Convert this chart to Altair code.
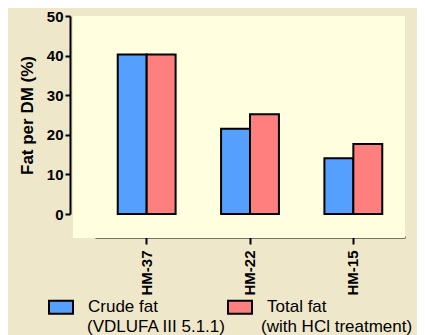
import altair as alt
import pandas as pd

samples = ["HM-37", "HM-22", "HM-15"]
series = ["Crude fat", "Total fat"]
series_sub = ["(VDLUFA III 5.1.1)", "(with HCl treatment)"]
crude = [40.3, 21.5, 14.1]
total = [40.3, 25.2, 17.7]
colors = ["#559FFF", "#FF7F7F"]

rows = []
for i, s in enumerate(samples):
    rows.append({"sample": s, "series": series[0], "value": crude[i]})
    rows.append({"sample": s, "series": series[1], "value": total[i]})
df = pd.DataFrame(rows)

FONT = "Liberation Sans"
W, H = 310, 198

bg = alt.Chart(pd.DataFrame({"a": [0]})).mark_rect(color="#FFFFE0").encode(
    x=alt.value(-22), x2=alt.value(W), y=alt.value(0), y2=alt.value(H + 24)
)

bars = alt.Chart(df).mark_bar(stroke="black", strokeWidth=2).encode(
    x=alt.X("sample:N", sort=samples,
            scale=alt.Scale(paddingInner=0.44, paddingOuter=0.22),
            axis=alt.Axis(title=None, labelAngle=270, labelFont=FONT, labelFontSize=15,
                          labelFontWeight="bold", labelColor="black", labelPadding=6,
                          domainColor="black", domainWidth=2, tickColor="black",
                          tickWidth=2, tickSize=7, offset=23)),
    xOffset=alt.XOffset("series:N", sort=series),
    y=alt.Y("value:Q", scale=alt.Scale(domain=[0, 50], nice=False),
            axis=alt.Axis(title="Fat per DM (%)", values=[0, 10, 20, 30, 40, 50],
                          grid=False, labelFont=FONT, labelFontSize=15, labelFontWeight="bold",
                          labelColor="black", labelPadding=2, titleFont=FONT,
                          titleFontSize=17, titleFontWeight="bold", titleColor="black",
                          titlePadding=10, domainColor="black", domainWidth=2,
                          tickColor="black", tickWidth=2, tickSize=5, offset=25)),
    color=alt.Color("series:N", sort=series,
                    scale=alt.Scale(domain=series, range=colors),
                    legend=alt.Legend(title=None, orient="none", legendX=-47, legendY=278,
                                      direction="horizontal", columns=2, columnPadding=66,
                                      symbolType="M-1,-0.54H1V0.54H-1Z", symbolSize=576,
                                      symbolStrokeColor="black", symbolStrokeWidth=2,
                                      symbolOpacity=1, labelFont=FONT, labelFontSize=17,
                                      labelColor="black", labelLimit=400, labelOffset=14)),
)

sub_x = [-8, 166]
subs = [
    alt.Chart(pd.DataFrame({"a": [0]})).mark_text(
        align="left", baseline="middle", font=FONT, fontSize=17, color="black"
    ).encode(x=alt.value(sub_x[i]), y=alt.value(311), text=alt.value(series_sub[i]))
    for i in range(len(series_sub))
]

chart = alt.layer(bg, bars, *subs).properties(
    width=W, height=H,
    autosize=alt.AutoSizeParams(type="none"),
    padding={"left": 87, "top": 8, "right": 12, "bottom": 125},
    background="#EFE7CA",
).configure_view(stroke=None)

chart.save("out.html", embed_options={"renderer": "svg", "actions": False})
